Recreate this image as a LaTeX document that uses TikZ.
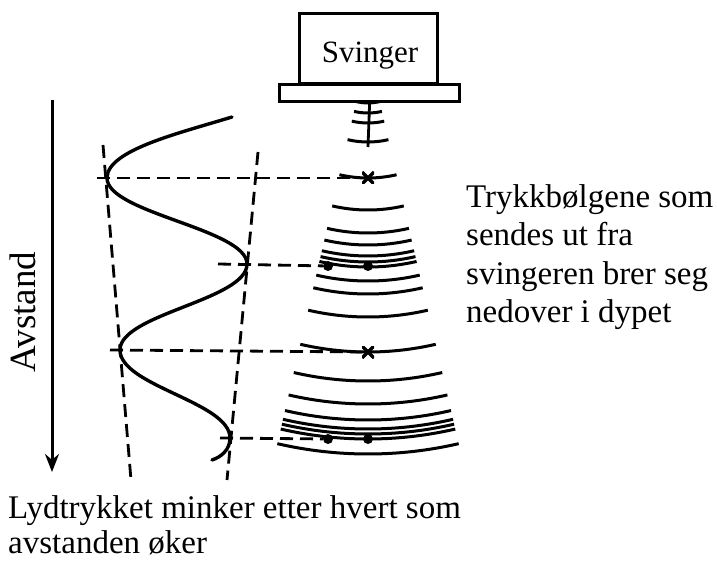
\documentclass[tikz,border=0pt]{standalone}
\usepackage{fontspec}
\setmainfont{Liberation Serif}
\usetikzlibrary{arrows.meta}
\begin{document}
\begin{tikzpicture}[x=1pt,y=-1pt,
  wave/.style={line width=3pt},
  guide/.style={line width=2.8pt, dash pattern=on 13pt off 7pt},
  pressure/.style={line width=3.4pt, line cap=round},
  txt/.style={font=\fontsize{33}{38.5}\selectfont, inner sep=0pt, align=left},
  crossmark/.style={minimum size=12pt, inner sep=0pt,
    path picture={\draw[line width=3.2pt]
      (path picture bounding box.north west) -- (path picture bounding box.south east)
      (path picture bounding box.north east) -- (path picture bounding box.south west);}},
  dotmark/.style={circle, fill, minimum size=10pt, inner sep=0pt}
]
\useasboundingbox (0,0) rectangle (717,561);

% transducer: housing and base plate
\node[draw, line width=2.6pt, minimum width=138pt, minimum height=70pt,
      anchor=north west, inner sep=0pt] (housing) at (298,12) {};
\node[draw, line width=3.2pt, minimum width=180pt, minimum height=17pt,
      anchor=north west, inner sep=0pt] (plate) at (278,83) {};
\node[font=\fontsize{31}{36}\selectfont, anchor=base, inner sep=0pt] (svinger) at (370,63) {Svinger};

% stalk below the plate
\coordinate (stalktip) at (368,147);
\draw[line width=2.8pt] (plate.south) -- (stalktip);

% pressure wave fronts spreading from the source
\foreach \r in {52,62,72,91,127,159,182,194,205,211,216,230,243,266,301,330,353,369,378,383,388,403}
  \draw[wave] (368,51) ++(77:\r) arc[start angle=77, end angle=103, radius=\r];

% markers on the beam axis
\node[crossmark] (x1) at (368,178) {};
\node[crossmark] (x2) at (368,352) {};
\node[dotmark] (d1a) at (328,266) {};
\node[dotmark] (d1b) at (368,266) {};
\node[dotmark] (d2a) at (328,439) {};
\node[dotmark] (d2b) at (368,439) {};

% envelope of the decaying pressure
\coordinate (envLtop) at (103,145);
\coordinate (envLbot) at (131,480);
\coordinate (envRtop) at (258,152);
\coordinate (envRbot) at (227,480);
\draw[guide] (envLtop) -- (envLbot);
\draw[guide] (envRtop) -- (envRbot);

% sound pressure curve
\coordinate (c0) at (232,117);
\coordinate (e1) at (107,178);
\coordinate (e2) at (247,264);
\coordinate (e3) at (120,350);
\coordinate (e4) at (230,438);
\coordinate (c5) at (212,460);
\draw[pressure] (c0) .. controls (180,133) and (107,150) .. (e1)
  .. controls (107,213) and (247,229) .. (e2)
  .. controls (247,300) and (120,314) .. (e3)
  .. controls (120,386) and (230,402) .. (e4)
  .. controls (230,450) and (221,457) .. (c5);

% projections from the curve to the wave fronts
\coordinate (h1) at (97,178);
\coordinate (h2) at (218,264);
\coordinate (h3) at (110,350);
\coordinate (h4) at (220,438);
\draw[guide] (h1) -- (x1);
\draw[guide] (h2) -- (d1a);
\draw[guide] (h3) -- (x2);
\draw[guide] (h4) -- (d2a);

% distance axis
\coordinate (axtop) at (52,100);
\coordinate (axbot) at (52,472);
\draw[line width=3pt, -{Stealth[length=18pt, width=14pt]}] (axtop) -- (axbot);
\node[txt, rotate=90, anchor=base] (avstand) at (35,312) {\fontsize{37}{40}\selectfont Avstand};

% captions
\node[txt, anchor=north west] (waves) at (466,184)
  {Trykkbølgene som\\sendes ut fra\\svingeren brer seg\\nedover i dypet};
\node[txt, anchor=north west, font=\fontsize{33}{35}\selectfont] (decay) at (8,495)
  {Lydtrykket minker etter hvert som\\avstanden øker};
\end{tikzpicture}
\end{document}
